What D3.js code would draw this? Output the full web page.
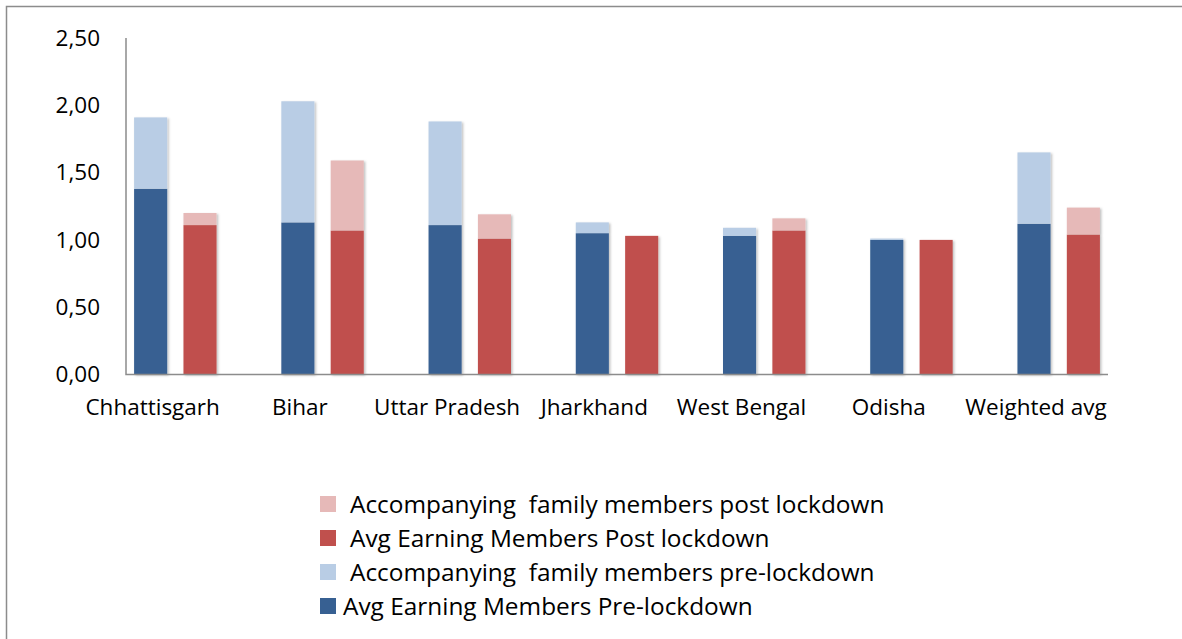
<!DOCTYPE html>
<meta charset="utf-8">
<html>
<head>
<title>Members per household</title>
<style>
  html, body { margin: 0; background: #fff; }
  body { font-family: "Open Sans", sans-serif; }
  .axis-line { stroke: #8c8c8c; stroke-width: 1.5; fill: none; }
  .tick-label { font-size: 22.5px; fill: #000; }
  .legend-label { font-size: 24.4px; fill: #000; white-space: pre; }
</style>
<script src="https://d3js.org/d3.v7.min.js"></script>
</head>
<body>
<div id="chart"></div>
<script>
// data
var states = ["Chhattisgarh", "Bihar", "Uttar Pradesh", "Jharkhand", "West Bengal", "Odisha", "Weighted avg"];
var earningPre  = [1.38, 1.13, 1.11, 1.05, 1.03, 1.00, 1.12];
var familyPre   = [0.53, 0.90, 0.77, 0.08, 0.06, 0.01, 0.53];
var earningPost = [1.11, 1.07, 1.01, 1.03, 1.07, 1.00, 1.04];
var familyPost  = [0.09, 0.52, 0.18, 0.00, 0.09, 0.00, 0.20];
var yTicks = [0, 0.5, 1, 1.5, 2, 2.5];
var legendItems = [
  {label: "Accompanying  family members post lockdown", color: "#e6b9b8", dx: 0},
  {label: "Avg Earning Members Post lockdown", color: "#c0504d", dx: 0},
  {label: "Accompanying  family members pre-lockdown", color: "#b9cde5", dx: 0},
  {label: "Avg Earning Members Pre-lockdown", color: "#376092", dx: -7}
];

var W = 1182, H = 639;
var plot = {left: 126, right: 1108, top: 38, bottom: 374.5};

var svg = d3.select("#chart").append("svg")
  .attr("width", W).attr("height", H);

var defs = svg.append("defs");
var f = defs.append("filter").attr("id", "shadow")
  .attr("x", "-20%").attr("y", "-5%").attr("width", "150%").attr("height", "115%");
f.append("feDropShadow").attr("dx", 1.5).attr("dy", 1).attr("stdDeviation", 1.2)
  .attr("flood-color", "#000").attr("flood-opacity", 0.25);

// outer frame (only top and left visible)
svg.append("path").attr("class", "axis-line")
  .attr("d", "M6.5," + (H + 5) + "V6.5H" + (W + 5));

var x0 = d3.scaleBand().domain(states)
  .range([plot.left, plot.right])
  .paddingInner(0.44).paddingOuter(0.055);
var x1 = d3.scaleBand().domain(["pre", "post"])
  .range([0, x0.bandwidth()]).paddingInner(0.33);
var y = d3.scaleLinear().domain([0, 2.5]).range([plot.bottom, plot.top]);

var fmt = function(v) { return d3.format(".2f")(v).replace(".", ","); };

// y tick labels
svg.append("g").selectAll("text").data(yTicks).enter().append("text")
  .attr("class", "tick-label")
  .attr("x", 100).attr("y", function(d) { return y(d); })
  .attr("dy", "0.35em").attr("text-anchor", "end")
  .text(fmt);

// bars
var rows = states.map(function(s, i) {
  return {state: s, ep: earningPre[i], fp: familyPre[i], eo: earningPost[i], fo: familyPost[i]};
});
var segs = [];
rows.forEach(function(r) {
  segs.push({state: r.state, g: "pre", y0: 0, y1: r.ep, color: "#376092"});
  segs.push({state: r.state, g: "pre", y0: r.ep, y1: r.ep + r.fp, color: "#b9cde5"});
  segs.push({state: r.state, g: "post", y0: 0, y1: r.eo, color: "#c0504d"});
  segs.push({state: r.state, g: "post", y0: r.eo, y1: r.eo + r.fo, color: "#e6b9b8"});
});

var bars = svg.append("g").attr("filter", "url(#shadow)");
bars.selectAll("rect").data(segs.filter(function(d) { return d.y1 > d.y0; }))
  .enter().append("rect")
  .attr("x", function(d) { return x0(d.state) + x1(d.g); })
  .attr("width", x1.bandwidth())
  .attr("y", function(d) { return y(d.y1); })
  .attr("height", function(d) { return y(d.y0) - y(d.y1); })
  .attr("fill", function(d) { return d.color; });

// axes lines
svg.append("path").attr("class", "axis-line")
  .attr("d", "M" + plot.left + "," + plot.top + "V" + plot.bottom + "H" + plot.right);

// category labels
svg.append("g").selectAll("text").data(states).enter().append("text")
  .attr("class", "tick-label")
  .attr("x", function(d) { return x0(d) + x1.bandwidth() / 2 + 2; })
  .attr("y", 407).attr("dy", "0.35em")
  .attr("text-anchor", "middle")
  .text(function(d) { return d; });

// legend
var lg = svg.append("g").selectAll("g").data(legendItems).enter().append("g")
  .attr("transform", function(d, i) { return "translate(320," + (504 + i * 34) + ")"; });
lg.append("rect").attr("x", 0).attr("y", -8).attr("width", 16).attr("height", 16)
  .attr("fill", function(d) { return d.color; });
lg.append("text").attr("class", "legend-label")
  .attr("x", function(d) { return 30 + d.dx; }).attr("dy", "0.35em")
  .text(function(d) { return d.label; });
</script>
</body>
</html>
